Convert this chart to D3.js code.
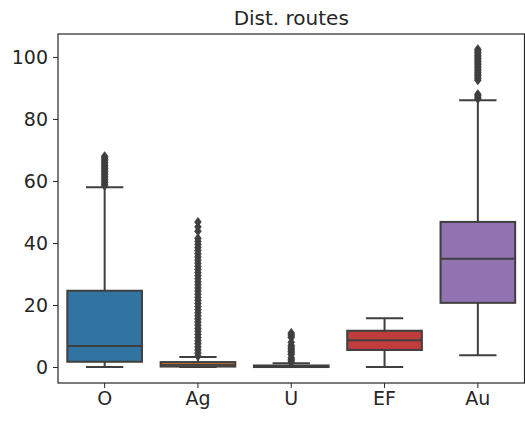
<!DOCTYPE html>
<html><head><meta charset="utf-8">
<script src="https://cdn.jsdelivr.net/npm/d3@7"></script>
<style>body{margin:0;background:#fff}svg{display:block}text{font-family:"DejaVu Sans",sans-serif;fill:#262626}</style>
</head><body><svg id="c" width="525" height="421"></svg>
<script>
const categories = ["O","Ag","U","EF","Au"];
const colors = ["#3274a1","#e1812c","#3a923a","#c03d3e","#9372b2"];
const q1 = [1.7, 0.15, 0.0, 5.5, 20.7];
const median = [6.8, 0.7, 0.2, 8.6, 34.9];
const q3 = [24.6, 1.6, 0.5, 11.7, 46.8];
const whiskerLow = [0, 0, 0, 0, 3.8];
const whiskerHigh = [58, 3.2, 1.2, 15.7, 86];
const outliersO = [58.5,59,59.5,60,60.5,61,61.5,62,62.5,63,63.5,64,64.5,65,65.5,66,66.5,67,67.5,68];
const outliersAg = [3.5,4.5,5.5,6.5,7.5,8.5,9.5,10.5,11.5,12.5,13.5,14.5,15.5,16.5,17.5,18.5,19.5,20.5,21.5,22.5,23.5,24.5,25.5,26.5,27.5,28.5,29.5,30.5,31.5,32.5,33.5,34.5,35.5,36.5,37.5,38.5,39.5,40.5,41.5,43.8,45.2,46.8];
const outliersU = [1.5,2,2.5,3,4,4.5,5,5.5,6,6.5,7,8,9.5,10,10.5,11];
const outliersEF = [];
const outliersAu = [86.5,87,87.5,88,92.5,93,93.5,94,94.5,95,95.5,96,96.5,97,97.5,98,98.5,99,99.5,100,100.5,101,101.5,102,102.5];
const yTicks = [0,20,40,60,80,100];
const outliers = [outliersO, outliersAg, outliersU, outliersEF, outliersAu];

const svg = d3.select("#c");
const L = 58, R = 524.5, T = 34, B = 383;
const x = d3.scaleBand().domain(categories).range([L, R]).paddingInner(0).paddingOuter(0);
const y = d3.scaleLinear().domain([-5.15, 107.4]).range([B, T]);
const bw = x.bandwidth() * 0.8;
const gray = "#3f3f3f";

const g = svg.append("g");
categories.forEach((c, i) => {
  const cx = x(c) + x.bandwidth() / 2;
  g.append("line").attr("x1", cx).attr("x2", cx).attr("y1", y(q3[i])).attr("y2", y(whiskerHigh[i])).attr("stroke", gray).attr("stroke-width", 2);
  g.append("line").attr("x1", cx).attr("x2", cx).attr("y1", y(q1[i])).attr("y2", y(whiskerLow[i])).attr("stroke", gray).attr("stroke-width", 2);
  [whiskerHigh[i], whiskerLow[i]].forEach(v => {
    g.append("line").attr("x1", cx - bw / 4).attr("x2", cx + bw / 4).attr("y1", y(v)).attr("y2", y(v)).attr("stroke", gray).attr("stroke-width", 2);
  });
  g.append("rect").attr("x", cx - bw / 2).attr("width", bw)
    .attr("y", y(q3[i])).attr("height", Math.max(0, y(q1[i]) - y(q3[i])))
    .attr("fill", colors[i]).attr("stroke", gray).attr("stroke-width", 2);
  g.append("line").attr("x1", cx - bw / 2).attr("x2", cx + bw / 2).attr("y1", y(median[i])).attr("y2", y(median[i])).attr("stroke", gray).attr("stroke-width", 2);
  g.selectAll(null).data(outliers[i]).enter().append("path")
    .attr("d", d => `M${cx},${y(d) - 4.5}L${cx + 3.3},${y(d)}L${cx},${y(d) + 4.5}L${cx - 3.3},${y(d)}Z`)
    .attr("fill", gray).attr("stroke", gray).attr("stroke-width", 0.8);
});

const ya = svg.append("g").attr("transform", `translate(${L},0)`)
  .call(d3.axisLeft(y).tickValues(yTicks).tickSize(5).tickPadding(5));
ya.select(".domain").remove();
ya.selectAll("line").attr("stroke", "#262626").attr("stroke-width", 1);
ya.selectAll("text").style("font-size", "19px").style("fill", "#262626");

const xa = svg.append("g").attr("transform", `translate(0,${B})`)
  .call(d3.axisBottom(x).tickSize(5).tickPadding(4));
xa.select(".domain").remove();
xa.selectAll("line").attr("stroke", "#262626").attr("stroke-width", 1);
xa.selectAll("text").style("font-size", "19px").style("fill", "#262626");

svg.append("rect").attr("x", L).attr("y", T).attr("width", R - L).attr("height", B - T)
  .attr("fill", "none").attr("stroke", "#262626").attr("stroke-width", 1.2);

svg.append("text").attr("x", (L + R) / 2).attr("y", 25).attr("text-anchor", "middle")
  .style("font-size", "20px").text("Dist. routes");
</script></body></html>
